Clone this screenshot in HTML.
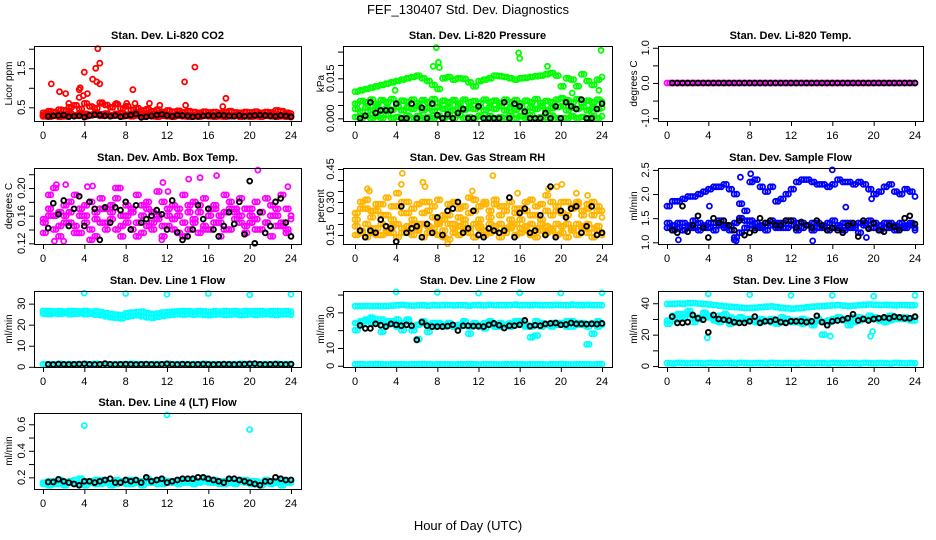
<!DOCTYPE html>
<html><head><meta charset="utf-8"><style>
html,body{margin:0;padding:0;background:#fff;}
svg{display:block;font-family:"Liberation Sans",Arial,sans-serif;}
</style></head><body>
<svg id="chart" width="936" height="540" viewBox="0 0 936 540" xmlns="http://www.w3.org/2000/svg">
<rect x="0" y="0" width="936" height="540" fill="#fff"/>
<text x="468" y="14" font-size="13" text-anchor="middle">FEF_130407  Std. Dev. Diagnostics</text>
<text x="468" y="530" font-size="13" text-anchor="middle">Hour of Day (UTC)</text>
</svg>
<script>
const xTicks = [0,4,8,12,16,20,24];
const hours = Array.from({length:49},(_,i)=>i*0.5);
const bhours = Array.from({length:48},(_,i)=>(i+1)*0.5);

const p1RedA=[0.30,0.32,0.29,0.33,0.31,0.34,0.30,0.35,0.33,0.31,0.36,0.32,0.34,0.30,0.33,0.35,0.31,0.32,0.30,0.34,0.31,0.33,0.30,0.32,0.31,0.30,0.33,0.29,0.31,0.30,0.32,0.29,0.31,0.30,0.28,0.31,0.29,0.30,0.32,0.29,0.30,0.31,0.29,0.30,0.32,0.30,0.29,0.31,0.28];
const p1RedB=[0.36,0.40,0.38,0.44,0.42,0.50,0.55,0.46,0.60,0.52,0.48,0.62,0.56,0.50,0.58,0.47,0.53,0.44,0.48,0.42,0.45,0.40,0.44,0.38,0.42,0.39,0.41,0.37,0.40,0.38,0.36,0.39,0.37,0.38,0.36,0.38,0.40,0.37,0.36,0.38,0.37,0.39,0.36,0.38,0.37,0.42,0.40,0.36,0.34];
const p1RedC=[0.27,0.26,0.28,0.26,0.27,0.29,0.28,0.30,0.27,0.29,0.31,0.28,0.30,0.28,0.29,0.27,0.28,0.27,0.29,0.26,0.28,0.27,0.26,0.28,0.27,0.26,0.28,0.27,0.26,0.27,0.26,0.28,0.27,0.26,0.27,0.26,0.27,0.28,0.26,0.27,0.26,0.27,0.26,0.28,0.27,0.26,0.27,0.26,0.25];
const p1OutH=[0.8,1.6,2.2,3.5,3.6,3.9,4.0,4.3,4.8,5.1,5.3,5.5,5.2,5.5,3.5,8.7,13.7,14.7,17.7,17.4,13.8,10.3,8.1,8.9,7.1,5.7,2.5,11.3];
const p1OutV=[1.1,0.9,0.85,0.95,1.0,0.8,1.4,0.85,1.22,1.5,2.0,1.63,1.15,1.1,0.75,0.95,1.15,1.53,0.73,0.52,0.55,0.6,0.6,0.6,0.6,0.6,0.6,0.55];
const p1Black=[0.27,0.28,0.29,0.30,0.26,0.27,0.28,0.25,0.29,0.31,0.30,0.28,0.27,0.29,0.26,0.28,0.30,0.33,0.24,0.26,0.28,0.30,0.32,0.29,0.27,0.30,0.29,0.28,0.26,0.27,0.28,0.29,0.28,0.30,0.29,0.28,0.27,0.29,0.27,0.28,0.29,0.30,0.29,0.28,0.27,0.29,0.28,0.26];

const p2GreenUp=[0.010,0.0105,0.011,0.0115,0.012,0.0125,0.013,0.0135,0.014,0.0145,0.015,0.0155,0.016,0.015,0.014,0.0125,0.011,0.015,0.0155,0.0145,0.015,0.0148,0.0135,0.012,0.014,0.0145,0.015,0.016,0.0158,0.0155,0.015,0.0145,0.015,0.0152,0.0155,0.0158,0.016,0.0165,0.017,0.016,0.012,0.015,0.0145,0.012,0.0165,0.014,0.0125,0.0145,0.0155];
const p2GreenMid=[0.0055,0.0065,0.006,0.007,0.0055,0.0068,0.006,0.0072,0.0058,0.0066,0.0062,0.007,0.0056,0.0068,0.006,0.0072,0.0058,0.0066,0.006,0.0068,0.0056,0.007,0.006,0.0065,0.0058,0.007,0.0062,0.0066,0.0058,0.007,0.006,0.0068,0.0056,0.0066,0.006,0.0072,0.0058,0.0065,0.006,0.007,0.0075,0.0068,0.006,0.0072,0.0058,0.0066,0.006,0.007,0.0062];
const p2GreenLow=[0.0035,0.0025,0.004,0.003,0.0045,0.0028,0.0038,0.0032,0.0042,0.003,0.004,0.0035,0.0045,0.003,0.0038,0.0028,0.0042,0.0035,0.004,0.003,0.0045,0.0032,0.0038,0.0035,0.0042,0.003,0.004,0.0035,0.0045,0.003,0.0038,0.0032,0.0042,0.0028,0.004,0.0035,0.0045,0.003,0.0038,0.0042,0.0045,0.003,0.004,0.0035,0.0042,0.003,0.0038,0.0035,0.004];
const p2GreenZero=[0.0005,0,0.001,0,0.0008,0,0.0012,0,0.0005,0,0.001,0,0.0008,0,0.0005,0,0.001,0,0.0008,0,0.0012,0,0.0005,0,0.001,0,0.0008,0,0.0005,0,0.001,0,0.0008,0,0.0012,0,0.0005,0,0.001,0,0,0,0.0008,0,0.0005,0,0.001,0,0.0008];
const p2OutH=[7.9,8.1,8.2,7.6,15.9,16.0,18.7,23.9,3.9,23.7,21.1];
const p2OutV=[0.0265,0.021,0.019,0.0195,0.0245,0.0225,0.0195,0.0255,0.0105,0.0105,0.0095];
const p2Black=[0,0.001,0.006,0.002,0.003,0.003,0.003,0.0055,0,0,0.0055,0,0.004,0,0.0055,0.0012,0,0.0015,0,0.002,0.0035,0,0,0.0045,0,0,0,0,0.006,0,0.0055,0.0045,0.0025,0,0,0,0.002,0,0.0045,0,0.006,0.0045,0.0035,0.007,0,0,0.0035,0.0055];

const p3Mag=[0,0,0,0,0,0,0,0,0,0,0,0,0,0,0,0,0,0,0,0,0,0,0,0,0,0,0,0,0,0,0,0,0,0,0,0,0,0,0,0,0,0,0,0,0,0,0,0,0];
const p3Black=[0,0,0,0,0,0,0,0,0,0,0,0,0,0,0,0,0,0,0,0,0,0,0,0,0,0,0,0,0,0,0,0,0,0,0,0,0,0,0,0,0,0,0,0,0,0,0,0];

const p4MagA=[0.155,0.17,0.14,0.165,0.15,0.18,0.145,0.16,0.175,0.14,0.165,0.15,0.17,0.155,0.185,0.145,0.16,0.17,0.15,0.175,0.145,0.165,0.155,0.18,0.16,0.14,0.17,0.15,0.165,0.155,0.175,0.145,0.16,0.17,0.15,0.165,0.18,0.155,0.16,0.145,0.17,0.155,0.165,0.15,0.175,0.16,0.145,0.17,0.155];
const p4MagB=[0.135,0.19,0.16,0.13,0.175,0.15,0.19,0.135,0.15,0.18,0.13,0.185,0.14,0.165,0.2,0.13,0.175,0.14,0.19,0.135,0.18,0.14,0.195,0.13,0.145,0.175,0.135,0.19,0.14,0.18,0.135,0.185,0.14,0.175,0.13,0.19,0.14,0.17,0.185,0.135,0.15,0.18,0.14,0.185,0.13,0.145,0.19,0.135,0.16];
const p4MagC=[0.15,0.16,0.2,0.145,0.16,0.165,0.135,0.17,0.16,0.125,0.155,0.17,0.15,0.175,0.14,0.16,0.15,0.165,0.13,0.16,0.17,0.15,0.16,0.145,0.17,0.155,0.16,0.13,0.175,0.15,0.165,0.14,0.17,0.15,0.16,0.14,0.17,0.165,0.15,0.17,0.16,0.14,0.165,0.15,0.16,0.17,0.15,0.14,0.16];
const p4OutH=[1.3,2.2,4.3,4.8,7.5,11.6,12.1,14.1,15.2,16.8,20.8,23.7,1.1,2.0,11.5];
const p4OutV=[0.205,0.205,0.202,0.203,0.2,0.208,0.195,0.213,0.215,0.218,0.226,0.202,0.123,0.123,0.125];
const p4Black=[0.142,0.178,0.162,0.182,0.145,0.17,0.188,0.145,0.18,0.17,0.125,0.172,0.15,0.172,0.168,0.18,0.14,0.175,0.15,0.155,0.16,0.168,0.162,0.14,0.182,0.136,0.125,0.13,0.14,0.175,0.155,0.17,0.14,0.13,0.145,0.165,0.148,0.18,0.133,0.21,0.12,0.165,0.135,0.145,0.18,0.185,0.15,0.13];

const p5OrLowA=[0.15,0.17,0.14,0.16,0.18,0.15,0.17,0.16,0.14,0.18,0.16,0.15,0.17,0.14,0.16,0.18,0.15,0.17,0.13,0.16,0.15,0.17,0.16,0.14,0.18,0.15,0.16,0.17,0.14,0.16,0.18,0.15,0.16,0.17,0.15,0.14,0.17,0.16,0.18,0.15,0.16,0.14,0.17,0.15,0.18,0.16,0.14,0.17,0.15];
const p5OrLowB=[0.19,0.16,0.2,0.18,0.15,0.2,0.16,0.19,0.2,0.16,0.19,0.2,0.18,0.2,0.19,0.16,0.2,0.14,0.2,0.18,0.19,0.2,0.18,0.2,0.19,0.17,0.2,0.19,0.2,0.18,0.19,0.2,0.18,0.19,0.2,0.18,0.2,0.19,0.17,0.2,0.19,0.2,0.18,0.2,0.19,0.2,0.18,0.19,0.16];
const p5OrUpA=[0.25,0.3,0.27,0.23,0.26,0.29,0.24,0.22,0.28,0.3,0.25,0.27,0.29,0.3,0.26,0.23,0.21,0.24,0.29,0.3,0.27,0.22,0.25,0.31,0.28,0.3,0.26,0.29,0.24,0.28,0.22,0.25,0.27,0.3,0.24,0.28,0.22,0.26,0.3,0.28,0.25,0.3,0.27,0.29,0.24,0.27,0.3,0.26,0.23];
const p5OrUpB=[0.22,0.27,0.31,0.26,0.29,0.24,0.32,0.28,0.34,0.25,0.3,0.22,0.2,0.25,0.3,0.28,0.31,0.22,0.24,0.2,0.23,0.28,0.32,0.26,0.22,0.29,0.23,0.31,0.28,0.26,0.3,0.27,0.22,0.26,0.31,0.24,0.29,0.33,0.24,0.26,0.3,0.24,0.28,0.3,0.26,0.29,0.24,0.28,0.26];
const p5OutH=[1.2,1.4,4.6,4.5,6.6,6.8,13.4,15.8,18.8,20.1,21.5,22.6,11.4,9.0,19.6];
const p5OutV=[0.36,0.35,0.43,0.38,0.39,0.37,0.42,0.34,0.36,0.38,0.34,0.33,0.35,0.11,0.37];
const p5Black=[0.17,0.14,0.17,0.16,0.22,0.19,0.18,0.12,0.28,0.16,0.18,0.19,0.14,0.2,0.16,0.23,0.15,0.26,0.27,0.3,0.16,0.18,0.26,0.15,0.14,0.18,0.17,0.16,0.17,0.32,0.14,0.25,0.27,0.16,0.17,0.24,0.15,0.37,0.14,0.26,0.23,0.27,0.28,0.16,0.19,0.28,0.15,0.16];

const p6BlueUp=[1.75,1.85,1.85,1.9,1.95,1.95,2.0,2.05,2.1,2.15,2.15,2.2,2.1,2.0,1.8,1.65,2.25,2.3,2.15,2.05,2.15,1.85,1.9,2.0,2.1,2.25,2.3,2.3,2.25,2.2,2.2,2.15,2.2,2.3,2.25,2.25,2.2,2.25,2.2,2.1,2.0,2.05,2.15,2.2,2.05,2.0,2.1,2.05,1.95];
const p6BlueLowA=[1.4,1.35,1.3,1.4,1.35,1.3,1.4,1.35,1.3,1.4,1.35,1.3,1.35,1.4,1.2,1.45,1.35,1.4,1.3,1.4,1.35,1.4,1.3,1.45,1.35,1.4,1.3,1.35,1.4,1.3,1.35,1.4,1.3,1.35,1.4,1.3,1.35,1.4,1.35,1.3,1.4,1.35,1.3,1.4,1.35,1.3,1.35,1.4,1.3];
const p6BlueLowB=[1.3,1.25,1.4,1.25,1.3,1.45,1.25,1.3,1.4,1.25,1.45,1.35,1.25,1.1,1.5,1.3,1.45,1.3,1.35,1.25,1.45,1.3,1.4,1.3,1.45,1.25,1.4,1.35,1.25,1.4,1.3,1.25,1.45,1.3,1.25,1.4,1.3,1.2,1.4,1.45,1.3,1.25,1.4,1.3,1.25,1.4,1.3,1.35,1.25];
const p6OutH=[1.1,4.1,6.5,6.7,14.1,16.0,17.3,19.3,8.1,7.1,19.8];
const p6OutV=[1.05,1.75,1.05,1.03,1.03,2.5,1.73,1.1,2.42,2.35,1.9];
const p6Black=[1.25,1.2,1.75,1.22,1.35,1.55,1.3,1.1,1.5,1.4,1.45,1.35,1.25,1.45,1.15,1.2,1.25,1.5,1.4,1.45,1.35,1.35,1.45,1.45,1.3,1.42,1.35,1.3,1.45,1.35,1.25,1.3,1.25,1.2,1.35,1.4,1.12,1.45,1.28,1.4,1.25,1.22,1.35,1.32,1.25,1.5,1.55,1.38];

const p7CyA=[26.5,26.5,26.3,26.4,26.2,26.5,26.4,26.3,26.5,26.2,26.3,26.0,25.5,25.0,24.8,24.5,25.5,25.8,26.0,26.2,25.5,25.0,25.3,25.8,26.0,26.2,26.3,26.5,26.4,26.2,26.5,26.3,26.0,26.4,26.2,26.5,26.3,26.4,26.2,26.5,26.3,26.4,26.5,26.2,26.4,26.5,26.3,26.4,26.2];
const p7CyB=[25.2,25.0,25.3,25.1,25.4,25.0,25.2,25.3,25.0,25.2,24.8,24.5,24.0,23.5,23.2,23.0,23.8,24.2,24.5,24.0,23.5,23.2,23.8,24.2,24.5,24.8,25.0,24.8,25.0,24.8,25.0,24.7,24.5,24.8,25.0,24.7,24.8,25.0,24.6,24.8,25.0,24.7,24.9,25.0,24.8,24.6,24.9,25.0,24.7];
const p7CyZero=[1.2,1.3,1.1,1.4,1.2,1.3,1.2,1.1,1.3,1.2,1.4,1.2,1.3,1.1,1.2,1.3,1.2,1.4,1.2,1.3,1.1,1.2,1.3,1.2,1.4,1.2,1.3,1.1,1.2,1.3,1.2,1.4,1.2,1.3,1.1,1.2,1.3,1.2,1.4,1.2,1.3,1.1,1.2,1.3,1.2,1.4,1.2,1.3,1.2];
const p7OutH=[4,8,12,16,20,24];
const p7OutV=[35,34.8,34.5,34.8,34.2,34.5];
const p7Black=[1.2,1.1,1.3,1.2,1.1,1.2,1.3,1.4,1.2,1.1,1.2,1.5,1.2,1.1,1.2,1.3,1.2,1.1,1.2,1.3,1.2,1.1,1.2,1.4,1.2,1.1,1.3,1.2,1.1,1.2,1.3,1.2,1.1,1.2,1.3,1.2,1.1,1.2,1.3,1.4,1.5,1.2,1.1,1.2,1.3,1.2,1.1,1.3];

const p8CyTop=[33.5,33.5,33.6,33.5,33.6,33.5,33.6,33.8,34.0,34.2,33.9,33.8,33.9,34.0,33.8,34.0,33.9,34.0,34.1,33.9,34.0,34.0,33.8,34.1,34.0,33.9,34.2,34.1,34.0,34.0,34.1,34.3,34.0,34.1,34.0,34.2,34.0,34.1,34.0,34.2,34.1,34.0,34.3,34.1,34.0,34.2,34.0,34.1,34.0];
const p8CyMid=[20,23,25,24,26,19,25,24,22,24,26,20,15,25,19,24,23,22,23,22,22,25,18,23,22,21,24,23,22,23,24,23,25,22,16,17,22,23,24,23,24,25,22,23,24,12,18,22,23];
const p8CyMid2=[24,25,26,27,24,26,23,25,26,20,25,22,23,24,23,22,24,23,24,22,23,24,22,24,23,24,25,22,24,23,22,25,24,23,22,25,24,23,22,24,23,22,25,24,23,22,24,25,23];
const p8CyZero=[0.8,0.9,0.7,0.8,1.0,0.8,0.7,0.9,0.8,0.8,0.7,0.9,0.8,1.0,0.8,0.7,0.9,0.8,0.8,0.7,0.9,0.8,1.0,0.8,0.7,0.9,0.8,0.8,0.7,0.9,0.8,1.0,0.8,0.7,0.9,0.8,0.8,0.7,0.9,0.8,1.0,0.8,0.7,0.9,0.8,0.8,0.7,0.9,0.8];
const p8OutH=[4,8,12,16,20,24];
const p8OutV=[41.5,41.2,40.8,41.0,40.8,41.0];
const p8Black=[22.7,21,21,23.5,22.8,22,23.5,23,22.5,23,22.5,14.5,24.5,22.5,22,22,22,22.3,23,19.8,22.5,22.5,22.3,22.3,22,23,23.8,22.8,21.2,22.5,22.5,23,25.5,22.3,22.8,22.5,23.5,23.8,24,23,23.2,24,23.5,23.5,23.4,23.5,23.4,23.8];

const p9CyTop=[39.5,39.6,39.8,39.7,40.0,40.1,39.8,39.5,39.2,38.8,38.5,38.0,37.8,37.5,37.2,37.0,37.0,37.2,37.5,37.8,38.0,37.5,37.0,36.8,36.5,36.8,37.0,37.5,37.8,38.0,38.2,38.5,38.6,38.8,38.5,38.2,38.5,38.8,39.0,39.2,39.0,38.8,39.0,38.8,38.7,38.9,38.8,38.7,38.8];
const p9CyMid=[27,29,30,33,35,28,30,34,32,29,28,33,27,30,31,30,29,28,28,29,28,27,28,30,28,29,27,28,26,29,20,28,29,31,30,26,28,31,30,32,30,29,28,32,31,30,31,30,29];
const p9CyMid2=[29,32,33,31,33,30,31,33,31,30,32,30,31,28,31,29,30,29,30,29,30,29,31,30,29,28,30,29,28,30,28,29,30,31,29,30,31,29,30,30,31,30,31,29,30,31,30,29,31];
const p9CyZero=[1.8,1.6,2.0,1.8,1.7,1.9,1.8,1.6,2.0,1.8,1.7,1.9,1.8,1.6,2.0,1.8,1.7,1.9,1.8,1.6,2.0,1.8,1.7,1.9,1.8,1.6,2.0,1.8,1.7,1.9,1.8,1.6,2.0,1.8,1.7,1.9,1.8,1.6,2.0,1.8,1.7,1.9,1.8,1.6,2.0,1.8,1.7,1.9,1.8];
const p9OutH=[4,8,12,16,20,24,3.9,19.7,15.8,19.9];
const p9OutV=[46,45.5,45,45,44.5,45,18,19,19,22];
const p9Black=[31.5,27.5,27.5,28,32.5,30.5,29.5,21.5,32.5,30,29.5,29,28,27.5,27.5,28.5,31.5,27.5,28.5,28.5,29.5,28,27.5,28.5,28.5,28.5,28,28.5,32,28,26,28.5,29,29.5,30.5,33,29,30,29,30,30.5,31,30.5,31.5,31,30.5,30.5,31.5];

const p10CyA=[0.16,0.17,0.15,0.18,0.16,0.17,0.15,0.19,0.17,0.16,0.18,0.15,0.17,0.16,0.18,0.17,0.15,0.18,0.16,0.17,0.19,0.16,0.18,0.15,0.17,0.16,0.18,0.17,0.16,0.18,0.17,0.19,0.16,0.18,0.17,0.15,0.18,0.16,0.17,0.18,0.15,0.17,0.16,0.18,0.17,0.16,0.18,0.17,0.16];
const p10CyB=[0.15,0.14,0.17,0.15,0.14,0.16,0.18,0.15,0.14,0.17,0.15,0.18,0.16,0.14,0.15,0.16,0.18,0.15,0.17,0.14,0.16,0.17,0.15,0.18,0.16,0.17,0.15,0.16,0.18,0.15,0.16,0.17,0.18,0.16,0.15,0.17,0.16,0.15,0.18,0.16,0.17,0.15,0.14,0.16,0.15,0.17,0.14,0.16,0.18];
const p10OutH=[4,12,20];
const p10OutV=[0.59,0.67,0.56];
const p10Black=[0.165,0.165,0.185,0.17,0.16,0.15,0.14,0.17,0.17,0.16,0.17,0.18,0.19,0.16,0.16,0.18,0.17,0.18,0.16,0.2,0.17,0.18,0.19,0.16,0.17,0.18,0.19,0.19,0.19,0.2,0.2,0.19,0.18,0.17,0.16,0.19,0.19,0.18,0.17,0.16,0.15,0.14,0.17,0.17,0.2,0.19,0.18,0.18];

const p1YTicks=[0.5,1.0,1.5,2.0], p1YLabels=["0.5","","1.5",""];
const p2YTicks=[0,0.005,0.01,0.015,0.02,0.025], p2YLabels=["0.000","","","0.015","",""];
const p3YTicks=[-1,-0.5,0,0.5,1], p3YLabels=["-1.0","","0.0","","1.0"];
const p4YTicks=[0.12,0.14,0.16,0.18,0.20,0.22], p4YLabels=["0.12","","0.16","","0.20",""];
const p5YTicks=[0.15,0.2,0.25,0.3,0.35,0.4,0.45], p5YLabels=["0.15","","","0.30","","","0.45"];
const p6YTicks=[1.0,1.5,2.0,2.5], p6YLabels=["1.0","1.5","2.0","2.5"];
const p7YTicks=[0,10,20,30], p7YLabels=["0","10","20","30"];
const p8YTicks=[0,10,20,30,40], p8YLabels=["0","10","","30",""];
const p9YTicks=[0,10,20,30,40], p9YLabels=["0","","20","","40"];
const p10YTicks=[0.2,0.3,0.4,0.5,0.6], p10YLabels=["0.2","","0.4","","0.6"];

const NS="http://www.w3.org/2000/svg";
const svg=document.getElementById('chart');
const cols=[{l:34,r:301,x0:43,x1:291,ylx:8},{l:343,r:612,x0:355,x1:602,ylx:320},{l:658,r:923,x0:667,x1:915,ylx:633}];
const rows=[{t:46,b:121},{t:168,b:244},{t:291,b:367},{t:413,b:489}];
const RED="#ff0000",GRN="#00ff00",MAG="#ff00ff",ORG="#ffb400",BLU="#0000ff",CYN="#00ffff";

const panels=[
 {id:'co2',title:'Stan. Dev. Li-820 CO2',ylab:'Licor ppm',c:0,r:0,ymin:0.149,ymax:2.07,yt:p1YTicks,yl:p1YLabels,
  series:[[hours,p1RedA,RED],[hours,p1RedB,RED],[hours,p1RedC,RED],[p1OutH,p1OutV,RED]],black:p1Black},
 {id:'pressure',title:'Stan. Dev. Li-820 Pressure',ylab:'kPa',c:1,r:0,ymin:-0.001,ymax:0.0271,yt:p2YTicks,yl:p2YLabels,
  series:[[hours,p2GreenUp,GRN],[hours,p2GreenMid,GRN],[hours,p2GreenLow,GRN],[hours,p2GreenZero,GRN],[p2OutH,p2OutV,GRN]],black:p2Black},
 {id:'temp',title:'Stan. Dev. Li-820 Temp.',ylab:'degrees C',c:2,r:0,ymin:-1.08,ymax:1.05,yt:p3YTicks,yl:p3YLabels,
  series:[[hours,p3Mag,MAG]],black:p3Black},
 {id:'ambbox',title:'Stan. Dev. Amb. Box Temp.',ylab:'degrees C',c:0,r:1,ymin:0.119,ymax:0.229,yt:p4YTicks,yl:p4YLabels,
  series:[[hours,p4MagA,MAG],[hours,p4MagB,MAG],[hours,p4MagC,MAG],[p4OutH,p4OutV,MAG]],black:p4Black},
 {id:'rh',title:'Stan. Dev. Gas Stream RH',ylab:'percent',c:1,r:1,ymin:0.109,ymax:0.4545,yt:p5YTicks,yl:p5YLabels,
  series:[[hours,p5OrUpA,ORG],[hours,p5OrUpB,ORG],[hours,p5OrLowA,ORG],[hours,p5OrLowB,ORG],[p5OutH,p5OutV,ORG]],black:p5Black},
 {id:'sampleflow',title:'Stan. Dev. Sample Flow',ylab:'ml/min',c:2,r:1,ymin:0.965,ymax:2.54,yt:p6YTicks,yl:p6YLabels,
  series:[[hours,p6BlueUp,BLU],[hours,p6BlueLowA,BLU],[hours,p6BlueLowB,BLU],[p6OutH,p6OutV,BLU]],black:p6Black},
 {id:'line1',title:'Stan. Dev. Line 1 Flow',ylab:'ml/min',c:0,r:2,ymin:-0.1,ymax:36,yt:p7YTicks,yl:p7YLabels,
  series:[[hours,p7CyA,CYN],[hours,p7CyB,CYN],[hours,p7CyZero,CYN],[p7OutH,p7OutV,CYN]],black:p7Black},
 {id:'line2',title:'Stan. Dev. Line 2 Flow',ylab:'ml/min',c:1,r:2,ymin:-0.7,ymax:42,yt:p8YTicks,yl:p8YLabels,
  series:[[hours,p8CyTop,CYN],[hours,p8CyMid,CYN],[hours,p8CyMid2,CYN],[hours,p8CyZero,CYN],[p8OutH,p8OutV,CYN]],black:p8Black},
 {id:'line3',title:'Stan. Dev. Line 3 Flow',ylab:'ml/min',c:2,r:2,ymin:-0.6,ymax:47.8,yt:p9YTicks,yl:p9YLabels,
  series:[[hours,p9CyTop,CYN],[hours,p9CyMid,CYN],[hours,p9CyMid2,CYN],[hours,p9CyZero,CYN],[p9OutH,p9OutV,CYN]],black:p9Black},
 {id:'line4',title:'Stan. Dev. Line 4 (LT) Flow',ylab:'ml/min',c:0,r:3,ymin:0.112,ymax:0.685,yt:p10YTicks,yl:p10YLabels,
  series:[[hours,p10CyA,CYN],[hours,p10CyB,CYN],[p10OutH,p10OutV,CYN]],black:p10Black}
];

function mk(tag,attrs,parent){const e=document.createElementNS(NS,tag);for(const k in attrs)e.setAttribute(k,attrs[k]);(parent||svg).appendChild(e);return e;}

panels.forEach(p=>{
  const C=cols[p.c],R=rows[p.r];
  const g=mk('g',{});
  
  
  const xs=h=>C.x0+(C.x1-C.x0)*h/24;
  const ys=v=>R.b-(R.b-R.t)*(v-p.ymin)/(p.ymax-p.ymin);
  const t=mk('text',{x:(C.l+C.r)/2,y:R.t-7,'font-size':11,'font-weight':'bold','text-anchor':'middle'},g);
  t.textContent=p.title;
  
  
  const yl=mk('text',{transform:`translate(${C.ylx+4},${(R.t+R.b)/2}) rotate(-90)`,'font-size':10,'text-anchor':'middle'},g);
  yl.textContent=p.ylab;
  
  
  const pg=mk('g',{fill:'none','stroke-width':1.8},g);
  
  
  p.series.forEach(s=>{
    const [hh,vv,col]=s;
    const dense=(hh===hours);
    for(let i=0;i<vv.length;i++){
      const c=mk('circle',{cx:xs(hh[i]).toFixed(1),cy:ys(vv[i]).toFixed(1),r:2.5,stroke:col},pg);
      
      
      if(dense && hh[i]<24){
        const c2=mk('circle',{cx:xs(hh[i]+0.25).toFixed(1),cy:ys(vv[i]).toFixed(1),r:2.5,stroke:col},pg);
        
        
      }
    }
  });
  p.black.forEach((v,i)=>{
    const c=mk('circle',{cx:xs(bhours[i]).toFixed(1),cy:ys(v).toFixed(1),r:2.4,stroke:'#000','stroke-width':1.9},pg);
    
    
  });
  const b=mk('rect',{x:C.l+0.5,y:R.t+0.5,width:C.r-C.l,height:R.b-R.t,fill:'none',stroke:'#000','stroke-width':1},g);
  
  
  const xa=mk('g',{stroke:'#000','stroke-width':1},g);
  
  
  mk('line',{x1:xs(0),x2:xs(24),y1:R.b+0.5,y2:R.b+0.5},xa);
  xTicks.forEach(h=>{
    mk('line',{x1:xs(h)+0.5,x2:xs(h)+0.5,y1:R.b,y2:R.b+5},xa);
    const tl=mk('text',{x:xs(h),y:R.b+18,'font-size':11,'text-anchor':'middle',stroke:'none',fill:'#000'},xa);
    tl.textContent=h;
    
    
  });
  const ya=mk('g',{stroke:'#000','stroke-width':1},g);
  
  
  mk('line',{x1:C.l+0.5,x2:C.l+0.5,y1:ys(p.yt[0]),y2:ys(p.yt[p.yt.length-1])},ya);
  p.yt.forEach((v,i)=>{
    const y=ys(v);
    mk('line',{x1:C.l-5,x2:C.l,y1:y+0.5,y2:y+0.5},ya);
    if(p.yl[i]){
      const tl=mk('text',{transform:`translate(${C.l-9},${y}) rotate(-90)`,'font-size':11,'text-anchor':'middle',stroke:'none',fill:'#000'},ya);
      tl.textContent=p.yl[i];
      
      
    }
  });
});
</script>
</body></html>
